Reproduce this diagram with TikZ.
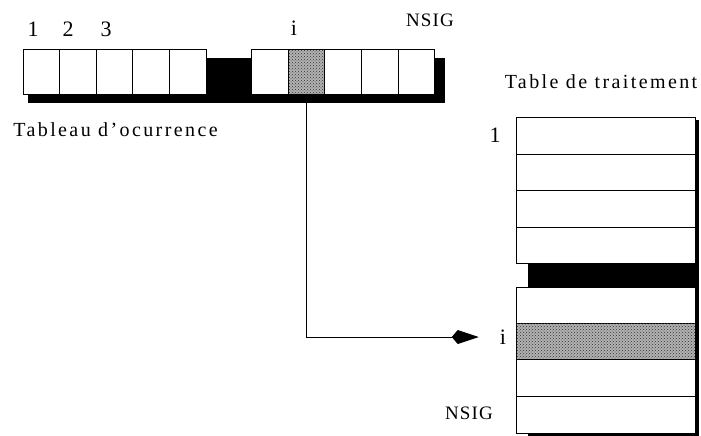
\documentclass[tikz,border=0pt]{standalone}
\usepackage{fontspec}
\setmainfont{Liberation Serif}
\usetikzlibrary{patterns,arrows.meta}
\begin{document}
\begin{tikzpicture}[x=1pt,y=-1pt,
  cell/.style={draw=black,line width=1pt,fill=white,minimum width=36.6pt,minimum height=44.7pt,inner sep=0pt,outer sep=0pt},
  row/.style={draw=black,line width=1pt,fill=white,minimum width=179pt,inner sep=0pt,outer sep=0pt},
  dotted cell/.style={fill=black!30,postaction={pattern=crosshatch dots,pattern color=black!80}},
  lbl/.style={font=\fontsize{22}{22}\selectfont,inner sep=0pt},
  txt/.style={font=\fontsize{20}{20}\selectfont\addfontfeature{LetterSpace=12},inner sep=0pt},
  shadow/.style={fill=black,draw=none}]
\useasboundingbox (0,0) rectangle (701,436);
% shadows
\fill[shadow] (28,58) rectangle (445,103);
\fill[shadow] (528,120) rectangle (699,436);
% top array
\foreach \i/\x in {1/41.3,2/77.9,3/114.5,4/151.1,5/187.7}
  \node[cell] (a\i) at (\x,71.7) {};
\foreach \i/\x in {6/270,8/343.2,9/379.8,10/416.4}
  \node[cell] (b\i) at (\x,71.7) {};
\node[cell,dotted cell] (ci) at (306.6,71.7) {};
% labels top
\node[lbl] (l1) at (33,29) {1};
\node[lbl] (l2) at (68,29) {2};
\node[lbl] (l3) at (106,29) {3};
\node[lbl] (li) at (294,28) {i};
\node[txt,font=\fontsize{19}{19}\selectfont\addfontfeature{LetterSpace=6}] (lnsig) at (430,20) {NSIG};
\node[txt] (ltab) at (115.5,130) {Tableau d'ocurrence};
% right table
\node[row,minimum height=37pt] (r1) at (605.5,135.8) {};
\node[row,minimum height=35.7pt] (r2) at (605.5,172.2) {};
\node[row,minimum height=37.3pt] (r3) at (605.5,208.7) {};
\node[row,minimum height=36pt] (r4) at (605.5,245.3) {};
\node[row,minimum height=36pt] (r5) at (605.5,305.3) {};
\node[row,minimum height=36pt,dotted cell] (ri) at (605.5,341.3) {};
\node[row,minimum height=37.4pt] (r7) at (605.5,378) {};
\node[row,minimum height=36.3pt] (r8) at (605.5,414.9) {};
% right labels
\node[txt] (ltt) at (601,82) {Table de traitement};
\node[lbl] (t1) at (495,135) {1};
\node[lbl] (ti) at (503,337) {i};
\node[txt,font=\fontsize{19}{19}\selectfont\addfontfeature{LetterSpace=6}] (tnsig) at (469,413) {NSIG};
% connector
\draw[line width=1pt,-{Kite[length=27pt,width=14pt,inset=6pt]},shorten >=21pt] (ci.south) |- (ti.west);
\end{tikzpicture}
\end{document}
